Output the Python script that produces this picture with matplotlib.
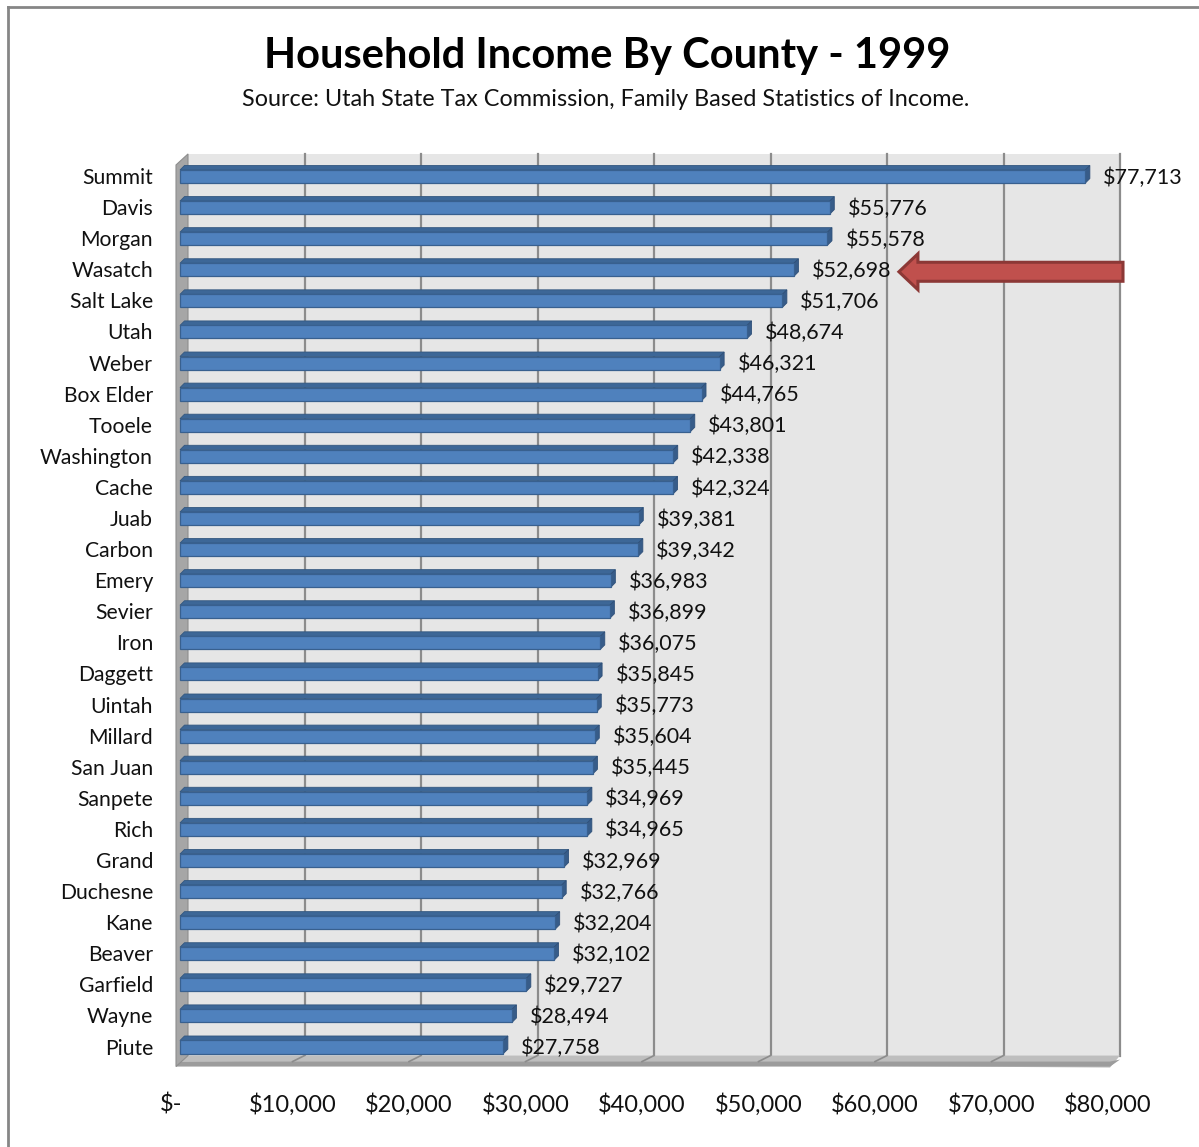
import matplotlib
matplotlib.use("Agg")
import matplotlib.pyplot as plt
from matplotlib.patches import Polygon
from matplotlib.lines import Line2D

# ---------------- data ----------------
counties = ["Summit", "Davis", "Morgan", "Wasatch", "Salt Lake", "Utah", "Weber",
            "Box Elder", "Tooele", "Washington", "Cache", "Juab", "Carbon", "Emery",
            "Sevier", "Iron", "Daggett", "Uintah", "Millard", "San Juan", "Sanpete",
            "Rich", "Grand", "Duchesne", "Kane", "Beaver", "Garfield", "Wayne", "Piute"]
incomes = [77713, 55776, 55578, 52698, 51706, 48674, 46321, 44765, 43801, 42338,
           42324, 39381, 39342, 36983, 36899, 36075, 35845, 35773, 35604, 35445,
           34969, 34965, 32969, 32766, 32204, 32102, 29727, 28494, 27758]
tick_values = [0, 10000, 20000, 30000, 40000, 50000, 60000, 70000, 80000]
tick_labels = ["$-", "$10,000", "$20,000", "$30,000", "$40,000", "$50,000",
               "$60,000", "$70,000", "$80,000"]
highlight = "Wasatch"
title = "Household Income By County - 1999"
subtitle = "Source: Utah State Tax Commission, Family Based Statistics of Income."

# ---------------- layout ----------------
W, H = 1199, 1147
FONT = ["Lato", "DejaVu Sans"]
plt.rcParams["font.family"] = FONT

fig = plt.figure(figsize=(W / 100, H / 100), dpi=100)
fig.patch.set_facecolor("white")
ax = fig.add_axes([0, 0, 1, 1])
ax.set_axis_off()

PX0, SX = 180.0, 116.5 / 10000      # px of $0 on bar plane, px per dollar
PY0, SY = 176.5, 31.09              # px of first category, px per category
ax.set_xlim(-PX0 / SX, (W - PX0) / SX)
ax.set_ylim((H - PY0) / SY, -PY0 / SY)


def shift(x, y, dxp, dyp):
    """Shift a data point by pixel offsets (right, down)."""
    return (x + dxp / SX, y + dyp / SY)


n = len(counties)
ymin, ymax = -0.5, n - 0.5
xmax = tick_values[-1]
BACK = (8, -7)
FRONT = (-4, 4)
FLOOR_TOP_FRONT = (-4, -1)

# back wall
ax.add_patch(Polygon([shift(0, ymin, *BACK), shift(xmax, ymin, *BACK),
                      shift(xmax, ymax, *BACK), shift(0, ymax, *BACK)],
                     closed=True, fc="#E6E6E6", ec="none", zorder=1))
# gridlines on back wall
for v in tick_values[1:]:
    p0 = shift(v, ymin, *BACK)
    p1 = shift(v, ymax, *BACK)
    ax.add_line(Line2D([p0[0], p1[0]], [p0[1], p1[1]], color="#8C8C8C", lw=1.6, zorder=2))

# floor top surface
ax.add_patch(Polygon([shift(0, ymax, *BACK), shift(xmax, ymax, *BACK),
                      shift(xmax, ymax, -2, 5), shift(0, ymax, *FLOOR_TOP_FRONT)],
                     closed=True, fc="#BEBEBE", ec="none", zorder=2))
# floor front face
ax.add_patch(Polygon([shift(0, ymax, *FLOOR_TOP_FRONT), shift(xmax, ymax, -2, -1),
                      shift(xmax, ymax, BACK[0], BACK[1] + 4),
                      shift(xmax, ymax, -2, 4), shift(0, ymax, *FRONT)],
                     closed=True, fc="#9C9C9C", ec="none", zorder=2))
# floor gridline traces
for v in tick_values[1:-1]:
    p0 = shift(v, ymax, *BACK)
    p1 = shift(v, ymax, -4, -1)
    ax.add_line(Line2D([p0[0], p1[0]], [p0[1], p1[1]], color="#8C8C8C", lw=1.2, zorder=2.5))

# left side wall
ax.add_patch(Polygon([shift(0, ymin, *BACK), shift(0, ymax, *BACK),
                      shift(0, ymax, *FRONT), shift(0, ymin, *FRONT)],
                     closed=True, fc="#A6A6A6", ec="#8E8E8E", lw=0.8, zorder=3))

# ---------------- bars ----------------
BH = 0.42
D = 4.5
for i, v in enumerate(incomes):
    y0, y1 = i - BH / 2, i + BH / 2
    ax.barh(i, v, height=BH, left=0, color="#4F81BD", edgecolor="#38608F",
            linewidth=0.9, zorder=5)
    ax.add_patch(Polygon([(0, y0), (v, y0), shift(v, y0, D, -D), shift(0, y0, D, -D)],
                         closed=True, fc="#3D6797", ec="#33577F", lw=0.6, zorder=4))
    ax.add_patch(Polygon([(v, y0), shift(v, y0, D, -D), shift(v, y1, D, -D), (v, y1)],
                         closed=True, fc="#375C89", ec="#2F5079", lw=0.6, zorder=4))
    lx, ly = shift(v, i, 18, 1)
    ax.text(lx, ly, f"${v:,}", ha="left", va="center", fontsize=15.5, color="#111111", zorder=6)
    cx, cy = shift(0, i, -27, 1.5)
    ax.text(cx, cy, counties[i], ha="right", va="center", fontsize=15.2, color="#111111", zorder=6)

# x tick labels
for v, lab in zip(tick_values, tick_labels):
    tx, ty = shift(v, ymax, -4, 42)
    if v == 0:
        tx, ty = shift(v, ymax, -9, 42)
    ax.text(tx, ty, lab, ha="center", va="center", fontsize=17, color="#111111")

# ---------------- highlight arrow ----------------
hi = counties.index(highlight)
tip_x = shift(incomes[hi], hi, 105, 0)[0]
head_x = shift(tip_x, hi, 19, 0)[0]
tail_x = shift(xmax, hi, 11, 0)[0]
yc = hi + 2 / SY
hh, bh = 18 / SY, 9.5 / SY
ax.add_patch(Polygon([(tip_x, yc), (head_x, yc - hh), (head_x, yc - bh), (tail_x, yc - bh),
                      (tail_x, yc + bh), (head_x, yc + bh), (head_x, yc + hh)],
                     closed=True, fc="#C0504D", ec="#8C3836", lw=2.2, joinstyle="miter", zorder=7))

# ---------------- titles & frame ----------------
fig.text(607.5 / W, 1 - 56 / H, title, ha="center", va="center", fontsize=30,
         fontweight="bold", color="#000000")
fig.text(606 / W, 1 - 99 / H, subtitle, ha="center", va="center", fontsize=16.8, color="#111111")

fig.add_artist(Line2D([8 / W, 8 / W], [0, 1 - 7 / H], color="#868686", lw=2.0,
                      transform=fig.transFigure))
fig.add_artist(Line2D([8 / W, 1], [1 - 7 / H, 1 - 7 / H], color="#868686", lw=2.0,
                      transform=fig.transFigure))

fig.savefig("out.png", dpi=100, facecolor="white")
